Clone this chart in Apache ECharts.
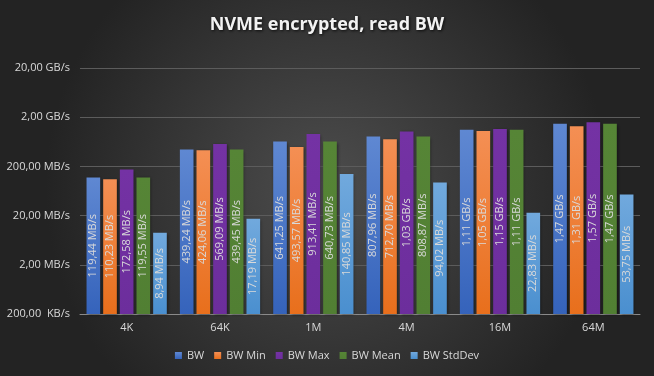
<!DOCTYPE html>
<html lang="en">
<head>
<meta charset="utf-8" />
<title>NVME encrypted, read BW</title>
<script src="https://cdn.jsdelivr.net/npm/echarts@6/dist/echarts.min.js"></script>
<style>
  html, body { margin: 0; padding: 0; }
  #chart { width: 654px; height: 376px; }
</style>
</head>
<body>
<div id="chart"></div>
<script>
// values in MB/s
var categories = ['4K', '64K', '1M', '4M', '16M', '64M'];
var bwAvg    = [119.44, 439.24, 641.25, 807.96, 1110, 1470];
var bwMin    = [110.23, 424.06, 493.57, 712.70, 1050, 1310];
var bwMax    = [172.58, 569.09, 913.41, 1030, 1150, 1570];
var bwMean   = [119.55, 439.45, 640.73, 808.87, 1110, 1470];
var bwStdDev = [8.94, 17.19, 140.85, 94.02, 22.83, 53.75];

// axis is log10 with the bottom at 200 KB/s (0.2 MB/s)
var BASE = 0.2;
function toAxis(v) { return Math.log10(v / BASE); }
function fromAxis(t) { return BASE * Math.pow(10, t); }

function fmt(v, kbSep) {
  if (v >= 999.5) return (v / 1000).toFixed(2).replace('.', ',') + ' GB/s';
  if (v >= 0.9995) return v.toFixed(2).replace('.', ',') + ' MB/s';
  return (v * 1000).toFixed(2).replace('.', ',') + (kbSep || ' ') + 'KB/s';
}

function grad(top, bottom) {
  return new echarts.graphic.LinearGradient(0, 0, 0, 1, [
    { offset: 0, color: top },
    { offset: 1, color: bottom }
  ]);
}

var chart = echarts.init(document.getElementById('chart'));

function mkSeries(name, data, legendColor, top, bottom) {
  return {
    name: name,
    type: 'bar',
    data: data.map(toAxis),
    barGap: '22%',
    barCategoryGap: '14%',
    itemStyle: {
      color: grad(top, bottom),
      shadowColor: 'rgba(0,0,0,0.45)',
      shadowBlur: 3,
      shadowOffsetX: 1,
      shadowOffsetY: 1
    },
    label: {
      show: true,
      position: 'inside',
      rotate: 90,
      color: '#d9d9d9',
      fontSize: 11,
      fontFamily: 'Open Sans',
      formatter: function (p) { return fmt(data[p.dataIndex]); }
    },
    color: legendColor
  };
}

chart.setOption({
  backgroundColor: new echarts.graphic.RadialGradient(0.5, 0.5, 0.75, [
    { offset: 0, color: '#4d4d4d' },
    { offset: 1, color: '#232323' }
  ]),
  animation: false,
  title: {
    text: 'NVME encrypted, read BW',
    left: 'center',
    top: 11,
    textStyle: {
      color: '#f2f2f2',
      fontSize: 18,
      fontWeight: 'bold',
      fontFamily: 'Open Sans',
      textShadowColor: 'rgba(0,0,0,0.8)',
      textShadowBlur: 3,
      textShadowOffsetX: 1,
      textShadowOffsetY: 1
    }
  },
  legend: {
    bottom: 10,
    left: 'center',
    itemWidth: 7,
    itemHeight: 7,
    itemGap: 10,
    icon: 'rect',
    textStyle: { color: '#d9d9d9', fontSize: 11, fontFamily: 'Open Sans' },
    data: ['BW', 'BW Min', 'BW Max', 'BW Mean', 'BW StdDev']
  },
  grid: { left: 80, right: 14, top: 68, bottom: 62 },
  xAxis: {
    type: 'category',
    data: categories,
    axisLine: { lineStyle: { color: '#8a8a8a' } },
    axisTick: { show: false },
    axisLabel: { color: '#d9d9d9', fontSize: 11, fontFamily: 'Open Sans', margin: 8 }
  },
  yAxis: {
    type: 'value',
    min: 0,
    max: 5,
    interval: 1,
    axisLine: { show: false },
    axisTick: { show: false },
    splitLine: { lineStyle: { color: '#5c5c5c' } },
    axisLabel: {
      color: '#d9d9d9',
      fontSize: 11,
      fontFamily: 'Open Sans',
      margin: 10,
      formatter: function (t) { return fmt(fromAxis(t), '  '); }
    }
  },
  series: [
    mkSeries('BW', bwAvg, '#4472c4', '#5f88d2', '#3563bb'),
    mkSeries('BW Min', bwMin, '#ed7d31', '#f48f54', '#e86f1c'),
    mkSeries('BW Max', bwMax, '#7030a0', '#7432a4', '#6c2e9c'),
    mkSeries('BW Mean', bwMean, '#548235', '#568536', '#517f33'),
    mkSeries('BW StdDev', bwStdDev, '#5b9bd5', '#71a9dd', '#4a8fcf')
  ]
});
</script>
</body>
</html>
